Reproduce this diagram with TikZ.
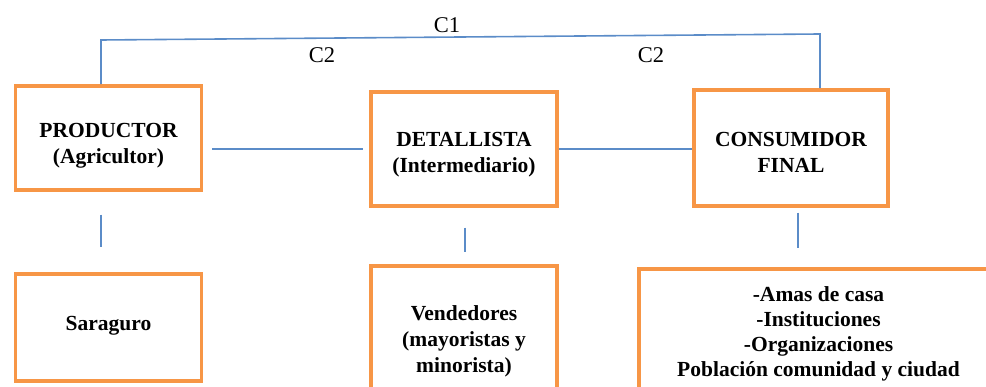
\documentclass[tikz,border=0pt]{standalone}
\usepackage{fontspec}
\setmainfont{Liberation Serif}
\definecolor{naranja}{HTML}{F79646}
\definecolor{azul}{HTML}{5B8CC8}

\begin{document}
\begin{tikzpicture}[x=1pt,y=1pt,
	caja/.style={draw=naranja, line width=3.5pt, minimum width=186pt},
	texto/.style={align=center, font=\fontsize{21.5}{26}\selectfont\bfseries},
	conector/.style={draw=azul, line width=1.6pt},
	etiqueta/.style={font=\fontsize{22.5}{26}\selectfont}]

	\useasboundingbox (0,0) rectangle (986,386);
	\clip (0,0) rectangle (986,386);

	% Fila superior: canal
	\node[caja, minimum height=104pt] (productor) at (108.5,248) {};
	\node[texto] (productor-t) at (108.5,240) {PRODUCTOR\\(Agricultor)};
	\node[caja, minimum height=114pt] (detallista) at (464,237) {};
	\node[texto] (detallista-t) at (464,231) {DETALLISTA\\(Intermediario)};
	\node[caja, minimum width=194pt, minimum height=116pt] (consumidor) at (791,238) {};
	\node[texto] (consumidor-t) at (791,234) {CONSUMIDOR\\FINAL};

	% Fila inferior (cortada abajo)
	\node[caja, minimum height=107pt] (saraguro) at (108.5,58.5) {};
	\node[texto] (saraguro-t) at (108.5,60) {Saraguro};
	\node[caja, minimum height=134pt] (vendedores) at (464,53) {};
	\node[texto] (vendedores-t) at (464,45) {Vendedores\\(mayoristas y\\minorista)};
	\node[caja, minimum width=359pt, minimum height=131pt] (lista) at (818.5,51.5) {};
	\node[texto, font=\fontsize{21.5}{25}\selectfont\bfseries] (lista-t) at (818.5,52) {-Amas de casa\\-Instituciones\\-Organizaciones\\Población comunidad y ciudad};

	% Canal directo C1
	\coordinate (c1izq) at (101,346);
	\coordinate (c1der) at (820,352);
	\draw[conector] (productor.north -| c1izq) -- (c1izq) -- (c1der) -- (consumidor.north -| c1der);
	\node[etiqueta] (c1) at (447,361) {C1};

	% Canal indirecto C2
	\draw[conector, shorten <=9pt, shorten >=6pt] (productor.east |- detallista.west) -- (detallista.west);
	\draw[conector] (detallista.east) -- (detallista.east -| consumidor.west);
	\node[etiqueta] (c2a) at (322,331) {C2};
	\node[etiqueta] (c2b) at (651,331) {C2};

	% Uniones cortas hacia abajo
	\draw[conector, shorten <=23pt, shorten >=25pt] ([xshift=-7.5pt]productor.south) -- ([xshift=-7.5pt]saraguro.north);
	\draw[conector, shorten <=20pt, shorten >=12pt] ([xshift=1pt]detallista.south) -- ([xshift=1pt]vendedores.north);
	\draw[conector, shorten <=5pt, shorten >=19pt] ([xshift=7pt]consumidor.south) -- ([xshift=7pt]consumidor.south |- lista.north);

\end{tikzpicture}
\end{document}
